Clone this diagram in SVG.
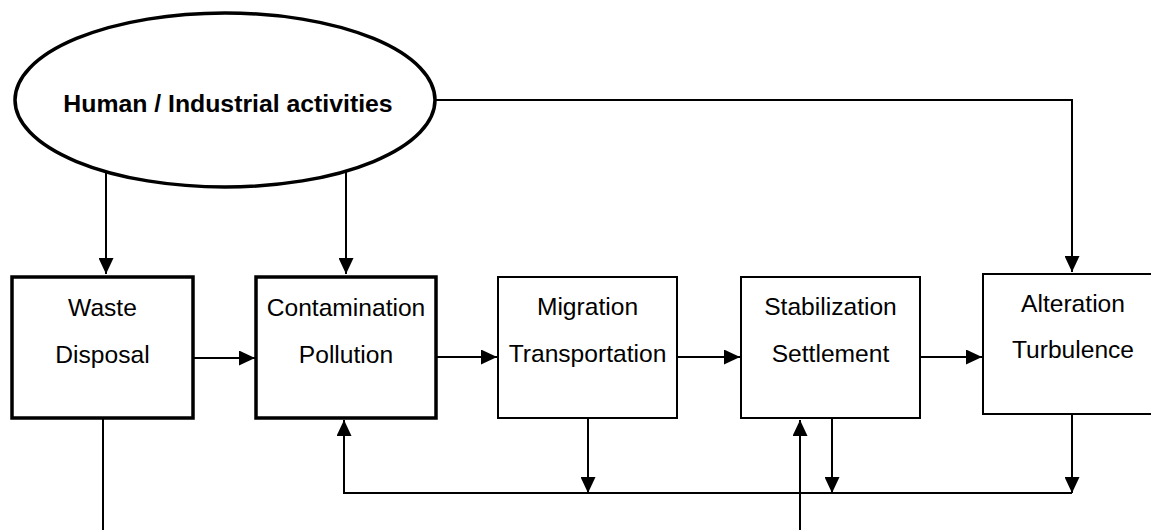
<svg xmlns="http://www.w3.org/2000/svg" width="1151" height="530" viewBox="0 0 1151 530">
<style>
.lbl{font-family:"Liberation Sans",Arial,sans-serif;font-size:24.6px;fill:#000;text-anchor:middle}
.title{font-weight:bold;font-size:24.8px}
.thick{fill:#fff;stroke:#000;stroke-width:3.5}
.thin{fill:#fff;stroke:#000;stroke-width:2}
.con{fill:none;stroke:#000;stroke-width:2}
.arr{marker-end:url(#ah)}
</style>
<defs>
<marker id="ah" viewBox="0 0 16 15" refX="16" refY="7.5" markerWidth="16" markerHeight="15" markerUnits="userSpaceOnUse" orient="auto">
<path d="M0,0 L16,7.5 L0,15 Z" fill="#000"/>
</marker>
</defs>
<g id="connectors">
<path class="con arr" d="M106,172 V274"/>
<path class="con arr" d="M346,172 V274"/>
<path class="con arr" d="M435,100 H1072 V272"/>
<path class="con arr" d="M193,358 H255"/>
<path class="con arr" d="M436,357 H497"/>
<path class="con arr" d="M677,357 H740"/>
<path class="con arr" d="M920,357 H982"/>
<path class="con" d="M103,418 V530"/>
<path class="con arr" d="M588,418 V493"/>
<path class="con arr" d="M832,418 V493"/>
<path class="con arr" d="M1072,414 V493"/>
<path class="con arr" d="M1072,493 H344 V420"/>
<path class="con arr" d="M800,530 V420"/>
</g>
<g id="human">
<ellipse cx="225" cy="100" rx="210" ry="87" fill="#fff" stroke="#000" stroke-width="3.5"/>
<text class="lbl title" x="228" y="112">Human / Industrial activities</text>
</g>
<g id="waste">
<rect class="thick" x="12" y="277" width="181" height="141"/>
<text class="lbl" x="102.5" y="316">Waste</text>
<text class="lbl" x="102.5" y="363">Disposal</text>
</g>
<g id="contamination">
<rect class="thick" x="256" y="277" width="180" height="141"/>
<text class="lbl" x="346" y="316">Contamination</text>
<text class="lbl" x="346" y="363">Pollution</text>
</g>
<g id="migration">
<rect class="thin" x="498" y="277" width="179" height="141"/>
<text class="lbl" x="587.5" y="315">Migration</text>
<text class="lbl" x="587.5" y="362">Transportation</text>
</g>
<g id="stabilization">
<rect class="thin" x="741" y="277" width="179" height="141"/>
<text class="lbl" x="830.5" y="315">Stabilization</text>
<text class="lbl" x="830.5" y="362">Settlement</text>
</g>
<g id="alteration">
<rect class="thin" x="983" y="274" width="180" height="140"/>
<text class="lbl" x="1073" y="312">Alteration</text>
<text class="lbl" x="1073" y="358">Turbulence</text>
</g>
</svg>
